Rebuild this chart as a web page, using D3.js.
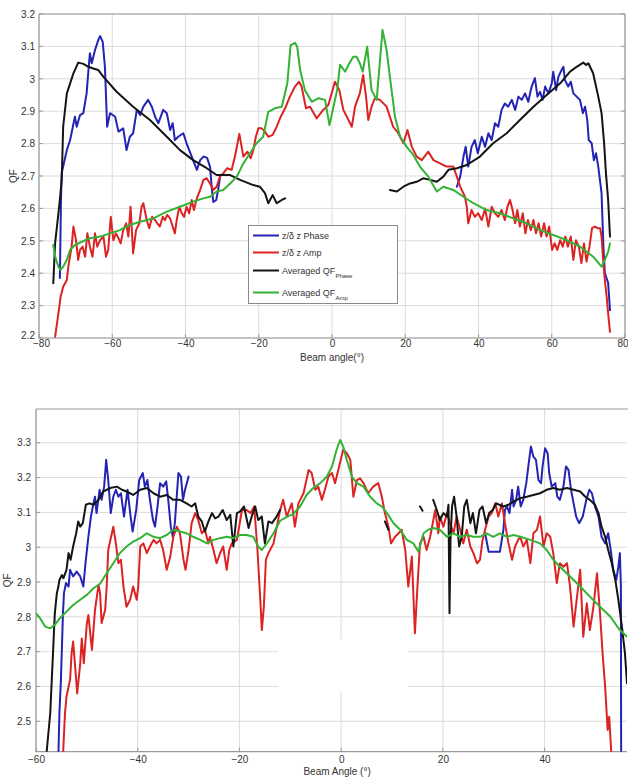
<!DOCTYPE html>
<html><head><meta charset="utf-8">
<script src="https://cdn.jsdelivr.net/npm/d3@7/dist/d3.min.js"></script>
<style>
body{margin:0;background:#fff;}
text{font-family:"Liberation Sans",Arial,sans-serif;}
</style></head>
<body><svg id="c" width="628" height="778"></svg>
<script>
// ---------------- DATA: top panel ----------------
const topXTicks = [-80,-60,-40,-20,0,20,40,60,80];
const topYTicks = [2.2,2.3,2.4,2.5,2.6,2.7,2.8,2.9,3.0,3.1,3.2];
const topYLabels = ["2.2","2.3","2.4","2.5","2.6","2.7","2.8","2.9","3","3.1","3.2"];

const topPhaseLeft = [[-74.3,2.385],[-74.0,2.626],[-73.8,2.709],[-72.4,2.78],[-71.5,2.811],[-70.2,2.883],[-69.7,2.852],[-68.8,2.888],[-67.9,2.894],[-67.0,2.955],[-66.5,3.027],[-66.1,3.079],[-65.6,3.048],[-64.7,3.089],[-63.8,3.12],[-63.3,3.132],[-62.6,3.114],[-62.0,3.037],[-61.4,2.852],[-60.6,2.894],[-59.2,2.883],[-58.3,2.837],[-57.0,2.847],[-56.1,2.78],[-55.2,2.821],[-54.3,2.832],[-53.3,2.904],[-52.4,2.888],[-51.5,2.914],[-50.2,2.935],[-49.2,2.914],[-48.3,2.883],[-47.4,2.863],[-46.1,2.904],[-45.1,2.894],[-44.2,2.842],[-43.5,2.863],[-42.9,2.811],[-42.0,2.821],[-40.6,2.832],[-39.7,2.801],[-38.3,2.76],[-36.9,2.719],[-36.0,2.749],[-35.1,2.76],[-34.1,2.756],[-33.3,2.728],[-33.0,2.688],[-32.7,2.648],[-32.4,2.62],[-31.6,2.626],[-31.1,2.657],[-30.6,2.694]];
const topPhaseRight = [[34.1,2.667],[35.0,2.698],[35.9,2.76],[36.5,2.79],[37.2,2.729],[38.1,2.79],[39.0,2.811],[39.8,2.77],[40.9,2.821],[41.8,2.79],[42.7,2.832],[43.6,2.811],[44.5,2.863],[45.4,2.852],[46.3,2.904],[47.2,2.924],[48.1,2.914],[49.1,2.935],[50.0,2.904],[50.9,2.945],[51.8,2.935],[52.7,2.955],[53.6,2.929],[54.5,2.976],[55.4,3.002],[56.1,2.945],[56.8,2.96],[57.5,2.935],[58.2,2.976],[59.1,2.955],[60.0,2.986],[60.4,3.022],[61.2,2.965],[61.8,3.006],[62.7,3.027],[63.2,3.037],[63.6,2.996],[64.5,2.976],[65.2,2.991],[65.9,2.955],[66.8,2.945],[67.7,2.935],[68.5,2.894],[69.1,2.914],[69.7,2.873],[70.1,2.811],[70.9,2.801],[71.5,2.749],[72.1,2.77],[72.7,2.729],[73.6,2.647],[74.1,2.482],[74.5,2.40],[75.4,2.37],[75.9,2.286]];
const topAmp = [[-75.6,2.204],[-74.7,2.276],[-74.1,2.327],[-73.4,2.358],[-72.4,2.379],[-72.0,2.42],[-71.1,2.482],[-70.6,2.544],[-69.9,2.502],[-69.3,2.441],[-68.8,2.472],[-68.1,2.482],[-67.4,2.451],[-66.8,2.523],[-66.1,2.482],[-65.4,2.451],[-64.7,2.523],[-64.1,2.482],[-63.3,2.502],[-62.4,2.513],[-61.7,2.451],[-61.1,2.472],[-60.4,2.574],[-59.7,2.502],[-59.0,2.523],[-58.3,2.508],[-57.7,2.492],[-57.0,2.533],[-56.2,2.554],[-55.6,2.513],[-55.0,2.605],[-54.3,2.461],[-53.5,2.533],[-52.6,2.554],[-52.0,2.605],[-51.5,2.616],[-50.6,2.564],[-49.9,2.539],[-49.1,2.574],[-48.3,2.564],[-47.7,2.554],[-47.0,2.544],[-46.2,2.574],[-45.6,2.564],[-45.0,2.58],[-44.2,2.569],[-43.5,2.544],[-42.9,2.523],[-42.4,2.564],[-41.7,2.605],[-41.0,2.585],[-40.4,2.574],[-39.7,2.605],[-39.0,2.585],[-38.3,2.626],[-37.7,2.595],[-36.9,2.631],[-36.0,2.657],[-35.1,2.688],[-34.2,2.693],[-33.3,2.677],[-32.4,2.657],[-31.5,2.667],[-30.6,2.698],[-29.7,2.708],[-28.6,2.724],[-27.4,2.719],[-26.5,2.76],[-25.3,2.83],[-24.2,2.76],[-23.1,2.775],[-22.2,2.755],[-21.5,2.78],[-20.8,2.821],[-20.1,2.847],[-19.2,2.847],[-18.3,2.837],[-17.4,2.821],[-16.2,2.827],[-15.1,2.852],[-14.0,2.883],[-12.8,2.909],[-11.5,2.945],[-10.1,2.976],[-9.0,2.991],[-8.3,2.976],[-7.1,2.909],[-6.0,2.914],[-4.2,2.878],[-2.4,2.904],[-1.0,2.919],[0.8,2.991],[2.0,2.965],[3.1,2.904],[4.5,2.873],[5.4,2.852],[6.3,2.914],[7.6,2.955],[8.5,3.012],[9.3,2.945],[9.9,2.873],[10.8,2.914],[11.7,2.94],[13.1,2.935],[14.9,2.914],[16.7,2.852],[18.1,2.832],[19.5,2.801],[20.6,2.842],[21.8,2.79],[23.1,2.76],[24.5,2.749],[26.3,2.775],[27.7,2.749],[29.5,2.739],[31.3,2.729],[33.1,2.729],[34.1,2.698],[35.0,2.667],[36.3,2.636],[36.8,2.605],[37.2,2.554],[38.1,2.595],[39.0,2.574],[39.9,2.585],[40.9,2.564],[41.8,2.60],[42.7,2.544],[43.6,2.605],[44.5,2.585],[45.4,2.574],[46.3,2.595],[47.2,2.564],[47.9,2.605],[48.6,2.626],[49.3,2.595],[50.0,2.554],[50.6,2.595],[51.3,2.544],[52.1,2.585],[52.8,2.523],[53.5,2.564],[54.3,2.533],[55.0,2.564],[55.7,2.523],[56.4,2.554],[57.1,2.513],[57.9,2.554],[58.6,2.513],[59.3,2.544],[60.1,2.472],[60.8,2.492],[61.5,2.472],[62.3,2.502],[63.0,2.482],[63.7,2.513],[64.4,2.482],[65.2,2.513],[65.9,2.441],[66.6,2.502],[67.4,2.482],[68.1,2.431],[68.8,2.492],[69.5,2.436],[70.3,2.482],[71.0,2.539],[71.8,2.544],[72.5,2.539],[73.2,2.539],[73.6,2.513],[74.1,2.431],[74.5,2.379],[75.0,2.327],[75.4,2.276],[75.9,2.219]];
const topAvgPhaseLeft = [[-76.1,2.369],[-75.6,2.493],[-74.7,2.585],[-74.3,2.626],[-73.8,2.688],[-73.4,2.852],[-72.4,2.955],[-71.5,2.986],[-70.6,3.017],[-69.3,3.05],[-67.9,3.046],[-66.5,3.037],[-65.2,3.032],[-63.8,3.027],[-62.4,3.006],[-58.8,2.96],[-54.3,2.914],[-49.7,2.873],[-45.1,2.821],[-41.5,2.78],[-37.9,2.749],[-34.2,2.724],[-31.5,2.703],[-27.8,2.703],[-25.1,2.688],[-21.5,2.672],[-19.7,2.667],[-18.3,2.647],[-17.4,2.616],[-16.2,2.641],[-15.1,2.616],[-13.7,2.626],[-12.8,2.631]];
const topAvgPhaseRight = [[15.8,2.657],[17.7,2.652],[19.5,2.667],[21.3,2.677],[23.1,2.682],[24.9,2.693],[26.8,2.688],[28.6,2.682],[30.4,2.698],[31.8,2.719],[34.1,2.724],[36.8,2.734],[40.4,2.76],[44.0,2.801],[47.7,2.832],[51.3,2.873],[55.0,2.914],[58.6,2.95],[62.3,2.986],[65.0,3.022],[66.8,3.037],[68.6,3.05],[69.4,3.043],[70.0,3.048],[71.3,3.017],[72.7,2.945],[73.6,2.894],[74.3,2.801],[74.8,2.708],[75.4,2.626],[75.9,2.513]];
const topAvgAmp = [[-76.1,2.487],[-75.6,2.451],[-74.7,2.42],[-74.1,2.41],[-73.4,2.42],[-72.4,2.441],[-71.5,2.472],[-70.2,2.487],[-68.3,2.497],[-66.1,2.508],[-63.3,2.513],[-60.6,2.523],[-57.9,2.533],[-55.2,2.549],[-52.4,2.559],[-48.8,2.569],[-45.1,2.59],[-41.5,2.605],[-37.9,2.621],[-35.1,2.631],[-33.3,2.636],[-31.5,2.652],[-29.7,2.657],[-27.8,2.677],[-26.0,2.698],[-24.2,2.739],[-22.4,2.77],[-20.6,2.801],[-18.8,2.821],[-17.4,2.898],[-15.6,2.909],[-13.7,2.914],[-12.2,2.986],[-11.3,3.104],[-10.1,3.111],[-9.5,3.099],[-8.7,3.027],[-7.4,2.965],[-5.5,2.929],[-3.7,2.94],[-1.9,2.935],[-0.7,2.857],[0.4,2.914],[1.4,2.965],[2.2,3.043],[3.6,3.022],[4.5,3.043],[5.8,3.068],[6.7,3.068],[7.6,3.048],[8.4,3.022],[9.6,3.099],[10.8,2.965],[12.2,2.935],[13.8,3.151],[14.9,3.089],[15.8,3.006],[17.2,2.883],[18.6,2.821],[20.4,2.79],[22.2,2.765],[24.0,2.729],[26.3,2.698],[28.6,2.652],[30.4,2.667],[33.1,2.657],[35.9,2.636],[38.6,2.616],[42.2,2.595],[45.9,2.585],[49.5,2.569],[53.2,2.554],[56.8,2.533],[60.4,2.518],[64.1,2.502],[67.7,2.482],[71.3,2.451],[73.6,2.42],[74.5,2.441],[75.4,2.466],[75.9,2.492]];

// ---------------- DATA: bottom panel ----------------
const botXTicks = [-60,-40,-20,0,20,40];
const botYTicks = [2.5,2.6,2.7,2.8,2.9,3.0,3.1,3.2,3.3];
const botYLabels = ["2.5","2.6","2.7","2.8","2.9","3","3.1","3.2","3.3"];

const botPhaseLeft = [[-55.6,2.40],[-55.4,2.523],[-55.1,2.619],[-54.9,2.714],[-54.7,2.81],[-54.5,2.868],[-54.1,2.897],[-53.6,2.887],[-53.3,2.935],[-52.7,2.916],[-52.0,2.93],[-51.3,2.916],[-50.7,2.887],[-50.2,2.964],[-49.7,3.03],[-49.2,3.088],[-48.7,3.126],[-48.4,3.145],[-48.1,3.098],[-47.5,3.165],[-47.1,3.136],[-46.6,3.174],[-46.2,3.251],[-45.8,3.193],[-45.3,3.098],[-44.8,3.145],[-44.3,3.165],[-43.8,3.145],[-43.3,3.155],[-42.7,3.088],[-42.0,3.165],[-41.4,3.088],[-41.0,3.045],[-40.3,3.107],[-39.7,3.193],[-39.0,3.213],[-38.6,3.174],[-38.1,3.193],[-37.6,3.136],[-37.0,3.078],[-36.6,3.059],[-36.1,3.117],[-35.6,3.184],[-35.0,3.174],[-34.4,3.189],[-34.0,3.136],[-33.5,3.059],[-33.1,3.03],[-32.7,3.069],[-32.0,3.213],[-31.5,3.203],[-31.1,3.136],[-30.7,3.165],[-30.0,3.203]];
const botPhaseRight = [[28.3,3.04],[29.0,2.987],[31.2,2.987],[31.9,3.05],[32.2,3.107],[32.6,3.117],[33.1,3.098],[33.6,3.165],[33.9,3.117],[34.4,3.136],[34.8,3.174],[35.3,3.117],[35.8,3.136],[36.4,3.184],[36.8,3.232],[37.3,3.289],[37.8,3.26],[38.3,3.251],[38.8,3.193],[39.3,3.184],[39.6,3.232],[40.1,3.284],[40.6,3.27],[40.9,3.213],[41.4,3.174],[42.1,3.184],[42.5,3.145],[43.0,3.136],[43.7,3.174],[44.2,3.232],[44.7,3.222],[45.2,3.165],[45.7,3.126],[46.2,3.088],[46.8,3.069],[47.5,3.088],[48.2,3.136],[48.8,3.165],[49.3,3.155],[49.9,3.117],[50.6,3.088],[51.2,3.03],[51.9,3.011],[52.5,3.04],[53.0,2.992],[53.5,2.935],[54.1,2.906],[54.5,2.944],[54.8,2.983],[55.0,2.887],[55.05,2.39]];
const botAmp = [[-54.7,2.40],[-54.3,2.523],[-54.0,2.571],[-53.6,2.599],[-53.3,2.619],[-53.0,2.695],[-52.7,2.729],[-52.3,2.657],[-51.9,2.58],[-51.3,2.667],[-51.0,2.738],[-50.6,2.667],[-50.0,2.782],[-49.7,2.805],[-49.0,2.705],[-48.4,2.82],[-47.7,2.892],[-47.4,2.868],[-47.1,2.782],[-46.4,2.82],[-46.1,2.887],[-45.8,2.992],[-44.8,3.059],[-44.3,3.011],[-43.8,2.954],[-43.3,2.964],[-42.8,2.887],[-42.2,2.829],[-41.5,2.849],[-40.9,2.887],[-40.2,2.849],[-39.9,2.887],[-39.5,3.002],[-38.9,3.011],[-38.2,2.983],[-37.6,3.002],[-36.9,3.021],[-36.3,3.011],[-35.6,3.021],[-35.0,2.992],[-34.3,2.935],[-33.6,2.973],[-33.0,3.03],[-32.3,3.059],[-31.7,3.04],[-31.0,2.964],[-30.6,2.935],[-30.0,2.992],[-29.4,3.069],[-28.7,3.098],[-28.1,3.078],[-27.4,3.04],[-26.8,3.05],[-26.1,3.011],[-25.8,3.03],[-25.1,2.992],[-24.5,2.954],[-23.8,2.983],[-23.2,3.002],[-22.5,2.935],[-22.0,2.992],[-21.5,3.011],[-20.5,3.021],[-19.5,3.107],[-18.6,3.107],[-17.8,3.098],[-17.1,3.117],[-16.5,3.002],[-15.9,2.849],[-15.6,2.762],[-15.2,2.829],[-14.8,2.964],[-14.3,2.983],[-13.3,3.011],[-12.0,3.107],[-11.4,3.136],[-10.7,3.088],[-9.7,3.126],[-9.1,3.059],[-8.4,3.126],[-7.4,3.155],[-6.4,3.222],[-5.8,3.213],[-5.1,3.165],[-4.5,3.174],[-3.8,3.136],[-3.2,3.165],[-2.5,3.203],[-1.8,3.213],[-1.2,3.184],[-0.4,3.232],[0.4,3.28],[1.1,3.27],[1.8,3.251],[2.4,3.145],[3.1,3.193],[3.7,3.198],[4.4,3.184],[5.3,3.155],[6.3,3.174],[7.3,3.184],[8.0,3.145],[8.6,3.098],[9.3,3.059],[9.8,3.011],[10.6,3.03],[11.3,3.04],[11.9,3.05],[12.6,2.992],[13.2,2.887],[13.9,2.973],[14.5,2.753],[15.0,2.887],[15.5,3.011],[16.2,3.03],[16.8,2.992],[17.5,3.03],[18.5,3.107],[19.1,3.04],[19.4,3.088],[20.1,3.059],[20.8,3.098],[21.4,3.069],[22.1,3.04],[22.7,3.088],[23.4,3.05],[24.0,3.011],[24.7,3.05],[25.4,3.002],[26.0,2.983],[26.7,2.954],[27.3,2.964],[27.8,3.021],[28.3,3.05],[29.0,3.088],[29.6,3.098],[30.3,3.126],[30.9,3.088],[31.6,3.126],[32.2,3.069],[32.9,3.011],[33.6,2.964],[34.2,3.002],[34.8,3.021],[35.2,3.03],[35.8,3.002],[36.5,3.021],[37.2,2.954],[37.8,3.04],[38.5,3.05],[39.1,3.088],[39.8,3.002],[40.4,3.04],[41.1,3.03],[41.7,2.983],[42.4,2.897],[43.0,2.954],[43.7,2.944],[44.4,2.954],[45.0,2.887],[45.7,2.772],[46.3,2.849],[47.0,2.935],[47.6,2.743],[48.3,2.839],[48.9,2.762],[49.6,2.829],[50.3,2.925],[50.9,2.81],[51.4,2.695],[51.9,2.599],[52.4,2.475],[52.7,2.513],[53.2,2.39]];
const botAvgPhaseLeft = [[-57.9,2.413],[-57.2,2.523],[-56.9,2.619],[-56.6,2.714],[-56.3,2.81],[-55.9,2.868],[-55.6,2.887],[-55.4,2.906],[-54.9,2.92],[-54.6,2.911],[-54.0,2.935],[-53.6,2.983],[-53.2,2.964],[-52.7,3.002],[-52.1,3.04],[-51.7,3.074],[-51.3,3.059],[-50.8,3.069],[-50.2,3.122],[-49.5,3.126],[-48.7,3.122],[-47.7,3.136],[-46.8,3.16],[-45.4,3.17],[-44.1,3.174],[-43.1,3.165],[-42.2,3.16],[-40.9,3.15],[-39.5,3.165],[-38.2,3.17],[-36.9,3.155],[-35.6,3.145],[-34.3,3.15],[-33.0,3.136],[-31.7,3.136],[-30.4,3.126],[-29.4,3.117],[-28.7,3.126],[-28.1,3.088],[-27.4,3.074],[-26.8,3.045],[-26.1,3.074],[-25.4,3.098],[-24.8,3.083],[-24.1,3.088],[-23.3,3.107],[-22.5,3.078],[-21.8,3.093],[-21.2,3.002],[-20.5,3.098],[-19.9,3.102],[-19.1,3.117],[-18.2,3.055],[-17.6,3.088],[-16.9,3.117],[-16.3,3.078],[-15.6,3.088],[-15.0,3.011],[-14.3,3.074],[-13.6,3.069],[-12.7,3.088],[-12.0,3.107]];
const botAvgPhaseDash1 = [[8.6,3.074],[9.3,3.05]];
const botAvgPhaseDash2 = [[15.5,3.117],[16.0,3.105]];
const botAvgPhaseRight = [[18.1,3.136],[18.8,3.107],[19.4,3.078],[20.1,3.098],[20.8,3.088],[21.1,3.122],[21.3,2.81],[21.5,3.021],[21.8,3.117],[22.2,3.145],[22.7,3.088],[23.2,3.002],[23.7,3.03],[24.2,3.117],[24.7,3.136],[25.4,3.069],[25.9,3.098],[26.5,3.04],[27.2,3.107],[27.8,3.117],[28.5,3.069],[29.1,3.098],[29.8,3.107],[30.5,3.126],[31.1,3.122],[31.9,3.117],[32.9,3.122],[33.9,3.131],[35.2,3.141],[36.5,3.145],[37.8,3.15],[39.1,3.155],[40.4,3.165],[41.7,3.17],[43.0,3.165],[44.4,3.17],[45.7,3.165],[47.0,3.16],[48.0,3.145],[48.9,3.136],[49.9,3.122],[50.6,3.098],[51.2,3.059],[51.9,3.03],[52.5,2.992],[53.2,2.954],[53.9,2.906],[54.5,2.849],[55.2,2.772],[55.8,2.695],[56.2,2.609]];
const botAvgAmp = [[-60.0,2.81],[-59.2,2.796],[-58.2,2.772],[-57.2,2.767],[-56.3,2.777],[-55.3,2.796],[-54.0,2.815],[-52.7,2.834],[-51.3,2.849],[-50.0,2.863],[-48.7,2.882],[-47.4,2.895],[-46.1,2.925],[-44.8,2.954],[-43.5,2.983],[-42.2,3.002],[-40.9,3.016],[-39.5,3.026],[-38.2,3.04],[-36.9,3.03],[-35.6,3.026],[-34.3,3.035],[-33.0,3.05],[-31.7,3.045],[-30.4,3.04],[-29.1,3.03],[-27.7,3.021],[-26.4,3.011],[-25.1,3.021],[-23.8,3.026],[-22.5,3.03],[-21.2,3.026],[-19.9,3.035],[-18.6,3.035],[-17.3,3.03],[-16.3,3.002],[-15.6,2.992],[-14.6,3.011],[-13.3,3.04],[-12.0,3.076],[-10.7,3.087],[-9.4,3.096],[-8.1,3.116],[-6.8,3.15],[-5.5,3.17],[-4.1,3.184],[-2.8,3.203],[-1.8,3.232],[-0.9,3.28],[-0.2,3.308],[0.4,3.289],[1.1,3.251],[2.1,3.203],[3.1,3.184],[4.4,3.174],[5.7,3.145],[7.0,3.126],[8.0,3.117],[9.0,3.098],[10.3,3.069],[11.6,3.05],[12.9,3.021],[14.2,3.011],[15.2,2.987],[16.2,3.04],[17.1,3.05],[18.1,3.055],[19.4,3.05],[20.8,3.03],[22.1,3.04],[23.4,3.03],[24.7,3.035],[26.0,3.03],[27.3,3.03],[28.6,3.04],[29.9,3.03],[31.2,3.04],[32.6,3.03],[33.9,3.035],[35.2,3.03],[37.2,3.021],[39.1,3.011],[40.4,2.992],[41.7,2.964],[43.0,2.944],[45.0,2.916],[47.0,2.887],[48.9,2.858],[50.9,2.829],[52.9,2.801],[54.8,2.762],[56.2,2.743]];

const legendLabels = [["z/\u03b4 z Phase",""],["z/\u03b4 z Amp",""],["Averaged QF","Phase"],["Averaged QF","Amp"]];
const colors = {phase:"#2424b4", amp:"#dc2323", avgPhase:"#141414", avgAmp:"#34b234"};

// ---------------- DRAW ----------------
const svg = d3.select("#c");
const gridColor = "#dcdcdc", boxColor = "#9a9a9a", textColor = "#333";

function drawPanel(cfg){
  const x = d3.scaleLinear().domain(cfg.xDomain).range([cfg.left, cfg.right]);
  const y = d3.scaleLinear().domain(cfg.yDomain).range([cfg.bottom, cfg.top]);
  const g = svg.append("g");
  const clipId = "clip"+cfg.id;
  svg.append("clipPath").attr("id",clipId).append("rect")
    .attr("x",cfg.left).attr("y",cfg.top).attr("width",cfg.right-cfg.left).attr("height",cfg.bottom-cfg.top);
  g.selectAll(".vg").data(cfg.xTicks).enter().append("line")
    .attr("x1",d=>x(d)).attr("x2",d=>x(d)).attr("y1",cfg.top).attr("y2",cfg.bottom)
    .attr("stroke",gridColor).attr("stroke-width",1);
  g.selectAll(".hg").data(cfg.yTicks).enter().append("line")
    .attr("x1",cfg.left).attr("x2",cfg.right).attr("y1",d=>y(d)).attr("y2",d=>y(d))
    .attr("stroke",gridColor).attr("stroke-width",1);
  if(cfg.blank){
    g.append("rect").attr("x",x(cfg.blank[0])).attr("y",y(cfg.blank[3]))
      .attr("width",x(cfg.blank[1])-x(cfg.blank[0])).attr("height",y(cfg.blank[2])-y(cfg.blank[3]))
      .attr("fill","#fff");
  }
  const xAxis = d3.axisBottom(x).tickValues(cfg.xTicks).tickSize(0).tickPadding(cfg.xPad);
  const ax = g.append("g").attr("transform",`translate(0,${cfg.bottom})`).call(xAxis);
  ax.select(".domain").remove();
  ax.selectAll("text").attr("fill",textColor).style("font-size","10px").style("font-family","Liberation Sans, Arial, sans-serif");
  if(cfg.lastTickEnd){
    ax.selectAll(".tick").filter(d=>d===cfg.xTicks[cfg.xTicks.length-1]).select("text")
      .attr("text-anchor","end").attr("x",628-cfg.right);
    ax.selectAll(".tick").filter(d=>d===cfg.xTicks[0]).select("text").attr("x",2);
  }
  const yAxis = d3.axisLeft(y).tickValues(cfg.yTicks).tickSize(0).tickPadding(cfg.yPad).tickFormat((d,i)=>cfg.yLabels[i]);
  const ay = g.append("g").attr("transform",`translate(${cfg.left},0)`).call(yAxis);
  ay.select(".domain").remove();
  ay.selectAll("text").attr("fill",textColor).style("font-size","10px").style("font-family","Liberation Sans, Arial, sans-serif");
  if(cfg.lastTickEnd){
    ay.selectAll(".tick").filter(d=>d===cfg.yTicks[0]).select("text").attr("y",-2.5);
  }
  g.selectAll(".xt").data(cfg.xTicks).enter().append("line")
    .attr("x1",d=>x(d)).attr("x2",d=>x(d)).attr("y1",cfg.bottom).attr("y2",cfg.bottom-4).attr("stroke",boxColor);
  g.selectAll(".yt").data(cfg.yTicks).enter().append("line")
    .attr("x1",cfg.left).attr("x2",cfg.left+4).attr("y1",d=>y(d)).attr("y2",d=>y(d)).attr("stroke",boxColor);
  if(cfg.rightBorder){
    g.selectAll(".yt2").data(cfg.yTicks).enter().append("line")
      .attr("x1",cfg.right).attr("x2",cfg.right-4).attr("y1",d=>y(d)).attr("y2",d=>y(d)).attr("stroke",boxColor);
  }
  const bp = [[cfg.left,cfg.top],[cfg.left,cfg.bottom],[cfg.right,cfg.bottom]];
  g.append("path").attr("d",d3.line()(bp)).attr("fill","none").attr("stroke",boxColor).attr("stroke-width",1.2);
  g.append("line").attr("x1",cfg.left).attr("x2",cfg.topBorderEnd).attr("y1",cfg.top).attr("y2",cfg.top)
    .attr("stroke",boxColor).attr("stroke-width",1.2);
  if(cfg.rightBorder){
    g.append("line").attr("x1",cfg.right).attr("x2",cfg.right).attr("y1",cfg.top).attr("y2",cfg.bottom)
      .attr("stroke",boxColor).attr("stroke-width",1.2);
  }
  const line = d3.line().x(d=>x(d[0])).y(d=>y(d[1]));
  const sg = g.append("g").attr("clip-path",`url(#${clipId})`);
  cfg.series.forEach(s=>{
    sg.append("path").datum(s.data).attr("d",line).attr("fill","none")
      .attr("stroke",s.color).attr("stroke-width",2).attr("stroke-linejoin","round").attr("stroke-linecap","round");
  });
  g.append("text").attr("x",x(cfg.xLabelAt)).attr("y",cfg.xLabelY).attr("text-anchor","middle")
    .attr("fill",textColor).style("font-size","10px").text(cfg.xLabel);
  g.append("text").attr("transform",`translate(${cfg.yLabelX},${(cfg.top+cfg.bottom)/2}) rotate(-90)`)
    .attr("text-anchor","middle").attr("fill",textColor).style("font-size","10px").text("QF");
  return {x,y,g};
}

const topPanel = drawPanel({
  id:"t", xDomain:[-80,80], yDomain:[2.2,3.2], left:39, right:625, top:14, bottom:338,
  xTicks:topXTicks, yTicks:topYTicks, yLabels:topYLabels, xPad:2, yPad:4, rightBorder:true, topBorderEnd:625,
  lastTickEnd:true,
  xLabel:"Beam angle(\u00b0)", xLabelAt:0, xLabelY:361, yLabelX:17,
  series:[
    {data:topPhaseLeft,color:colors.phase},{data:topPhaseRight,color:colors.phase},
    {data:topAmp,color:colors.amp},
    {data:topAvgPhaseLeft,color:colors.avgPhase},{data:topAvgPhaseRight,color:colors.avgPhase},
    {data:topAvgAmp,color:colors.avgAmp}
  ]
});

const botPanel = drawPanel({
  id:"b", xDomain:[-60,56.2], yDomain:[2.4126,3.397], left:36, right:627, top:409, bottom:751.7,
  xTicks:botXTicks, yTicks:botYTicks, yLabels:botYLabels, xPad:4, yPad:5, rightBorder:false, topBorderEnd:628,
  blank:[-12.4,13.2,2.585,2.735],
  xLabel:"Beam Angle (\u00b0)", xLabelAt:-0.8, xLabelY:775, yLabelX:11,
  series:[
    {data:botPhaseLeft,color:colors.phase},{data:botPhaseRight,color:colors.phase},
    {data:botAmp,color:colors.amp},
    {data:botAvgPhaseLeft,color:colors.avgPhase},{data:botAvgPhaseDash1,color:colors.avgPhase},
    {data:botAvgPhaseDash2,color:colors.avgPhase},{data:botAvgPhaseRight,color:colors.avgPhase},
    {data:botAvgAmp,color:colors.avgAmp}
  ]
});

const lg = svg.append("g");
lg.append("rect").attr("x",248.5).attr("y",225.5).attr("width",149).attr("height",78)
  .attr("fill","#fff").attr("stroke","#8a8a8a").attr("stroke-width",1);
const legColors = [colors.phase, colors.amp, colors.avgPhase, colors.avgAmp];
const legY = [235.5, 252.5, 270.5, 292.5];
legendLabels.forEach((l,i)=>{
  lg.append("line").attr("x1",253).attr("x2",279).attr("y1",legY[i]).attr("y2",legY[i])
    .attr("stroke",legColors[i]).attr("stroke-width",2);
  const t = lg.append("text").attr("x",282).attr("y",legY[i]+3.5).attr("fill",textColor).style("font-size","9px");
  t.append("tspan").text(l[0]);
  if(l[1]) t.append("tspan").attr("dy",4).style("font-size","6px").text(l[1]);
});
</script>
</body></html>
